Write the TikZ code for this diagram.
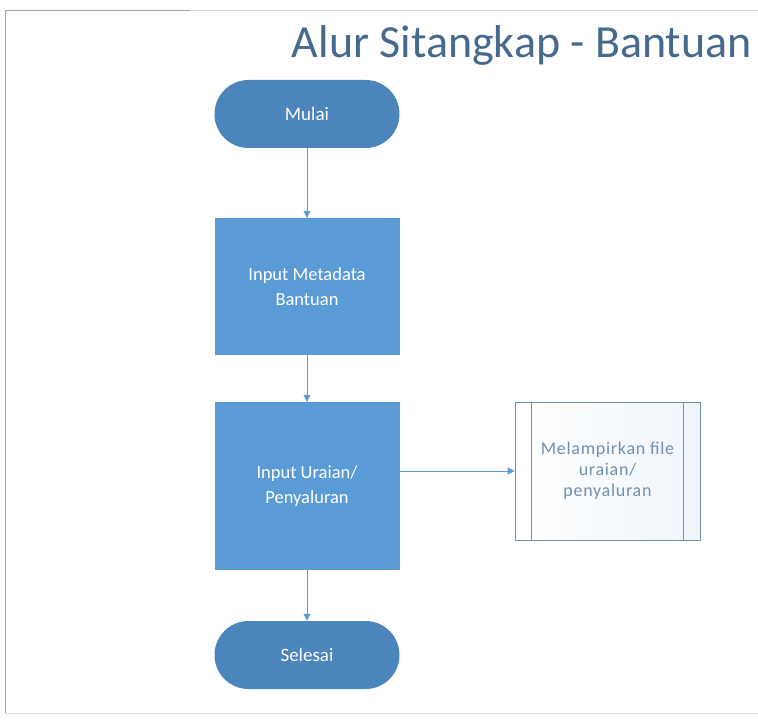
\documentclass[tikz,border=0pt]{standalone}
\usepackage{fontspec}
\setmainfont{Carlito}
\usetikzlibrary{arrows.meta, shadings}

\definecolor{termblue}{HTML}{4C84BC}
\definecolor{procblue}{HTML}{5B9BD5}
\definecolor{titleblue}{HTML}{46698E}
\definecolor{sublabel}{HTML}{7090AE}
\definecolor{subline}{HTML}{6F8FAD}
\definecolor{framegray}{HTML}{9AA7B3}

\begin{document}
\begin{tikzpicture}[x=1pt, y=-1pt,
    terminal/.style={draw=none, fill=termblue, text=white, rounded corners=34pt,
        minimum width=185pt, minimum height=68pt, font=\fontsize{19}{22}\selectfont},
    process/.style={draw=none, fill=procblue, text=white, align=center,
        minimum width=185pt, font=\fontsize{18.5}{25}\selectfont},
    subproc/.style={draw=subline, semithick, left color=white, right color=procblue!10,
        text=sublabel, align=center, minimum width=185pt, minimum height=138pt,
        font=\fontsize{18}{21}\selectfont\addfontfeatures{LetterSpace=4}},
    flow/.style={-{Triangle[length=7pt, width=7pt]}, procblue, semithick}]

    \useasboundingbox (0,0) rectangle (758,722);

    % outer frame
    \draw[framegray, thick] (758,10) -- (5,10) -- (5,713);
    \draw[framegray!40, thick] (5,713) -- (758,713);
    \draw[framegray!45, thick] (190,10) -- (758,10);

    % title
    \node[anchor=base east, text=titleblue, font=\fontsize{46}{48}\selectfont, inner sep=0pt] (title) at (752,58) {Alur Sitangkap - Bantuan};

    % flow steps
    \node[terminal] (mulai) at (307,114) {Mulai};
    \node[process, minimum height=137pt] (meta) at (307,286.5) {Input Metadata\\Bantuan};
    \node[process, minimum height=168pt] (uraian) at (307,486) {Input Uraian/\\Penyaluran};
    \node[subproc] (lampiran) at (607.5,471) {Melampirkan file\\uraian/\\penyaluran};
    \node[terminal] (selesai) at (307,655) {Selesai};

    % side bars of the predefined process
    \draw[subline, semithick] ([xshift=17pt]lampiran.north west) -- ([xshift=17pt]lampiran.south west);
    \draw[subline, semithick] ([xshift=-17pt]lampiran.north east) -- ([xshift=-17pt]lampiran.south east);

    % connectors
    \draw[flow] (mulai) -- (meta);
    \draw[flow] (meta) -- (uraian);
    \draw[flow] (uraian.east |- lampiran.west) -- (lampiran.west);
    \draw[flow] (uraian) -- (selesai);

\end{tikzpicture}
\end{document}
